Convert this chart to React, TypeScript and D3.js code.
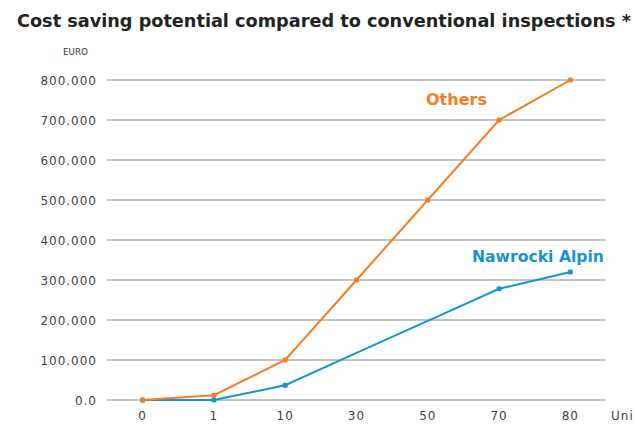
import React from "react";
import * as d3 from "d3";

const categories = ["0", "1", "10", "30", "50", "70", "80"];
const othersValues = [0, 12000, 100000, 300000, 500000, 700000, 800000];
const nawrockiValues = [0, 0, 37000, 118000, 198000, 278000, 320000];
const nawrockiMarkerIdx = [0, 1, 2, 5, 6];
const yTicks = [0, 100000, 200000, 300000, 400000, 500000, 600000, 700000, 800000];
const yTickLabels = ["0.0", "100.000", "200.000", "300.000", "400.000", "500.000", "600.000", "700.000", "800.000"];
const xUnitLabel = "Uni";

const W = 636;
const H = 435;
const ORANGE = "#f47d26";
const BLUE = "#1594d3";

export default function App() {
  const x = d3.scalePoint<string>().domain(categories).range([107, 606]).padding(0.5);
  const y = d3.scaleLinear().domain([0, 800000]).range([400, 80]);
  const line = d3
    .line<number>()
    .x((_, i) => x(categories[i]) as number)
    .y((d) => y(d));

  return (
    <svg
      width={W}
      height={H}
      style={{ position: "absolute", left: 0, top: 0, background: "#fff" }}
      fontFamily="DejaVu Sans, Verdana, sans-serif"
    >
      <text x={17} y={27} fontSize={17.5} fontWeight="bold" fill="#222" textLength={614} lengthAdjust="spacingAndGlyphs">
        Cost saving potential compared to conventional inspections *
      </text>
      <text x={63} y={55} fontSize={9.5} fill="#333" textLength={25} lengthAdjust="spacingAndGlyphs">
        EURO
      </text>
      {yTicks.map((t, i) => (
        <g key={t}>
          <line x1={107} x2={606} y1={y(t)} y2={y(t)} stroke="#8a8a8a" strokeWidth={1.2} />
          <text x={97} y={y(t) + 4.5} fontSize={12} fill="#404040" textAnchor="end" letterSpacing={1}>
            {yTickLabels[i]}
          </text>
        </g>
      ))}
      {categories.map((c) => (
        <text key={c} x={x(c)} y={420} fontSize={12} fill="#404040" textAnchor="middle" letterSpacing={1}>
          {c}
        </text>
      ))}
      <text x={611} y={420} fontSize={12} fill="#404040" letterSpacing={1}>
        {xUnitLabel}
      </text>
      <path d={line(nawrockiValues) || ""} fill="none" stroke={BLUE} strokeWidth={2} />
      {nawrockiMarkerIdx.map((i) => (
        <rect
          key={i}
          x={(x(categories[i]) as number) - 2.5}
          y={y(nawrockiValues[i]) - 2.5}
          width={5}
          height={5}
          rx={1.5}
          fill={BLUE}
        />
      ))}
      <path d={line(othersValues) || ""} fill="none" stroke={ORANGE} strokeWidth={2} />
      {othersValues.map((v, i) => (
        <rect
          key={i}
          x={(x(categories[i]) as number) - 2.5}
          y={y(v) - 2.5}
          width={5}
          height={5}
          rx={1.5}
          fill={ORANGE}
        />
      ))}
      <text x={426} y={105} fontSize={16} fontWeight="bold" fill={ORANGE}>
        Others
      </text>
      <text x={472} y={262} fontSize={16} fontWeight="bold" fill={BLUE} textLength={132} lengthAdjust="spacingAndGlyphs">
        Nawrocki Alpin
      </text>
    </svg>
  );
}
